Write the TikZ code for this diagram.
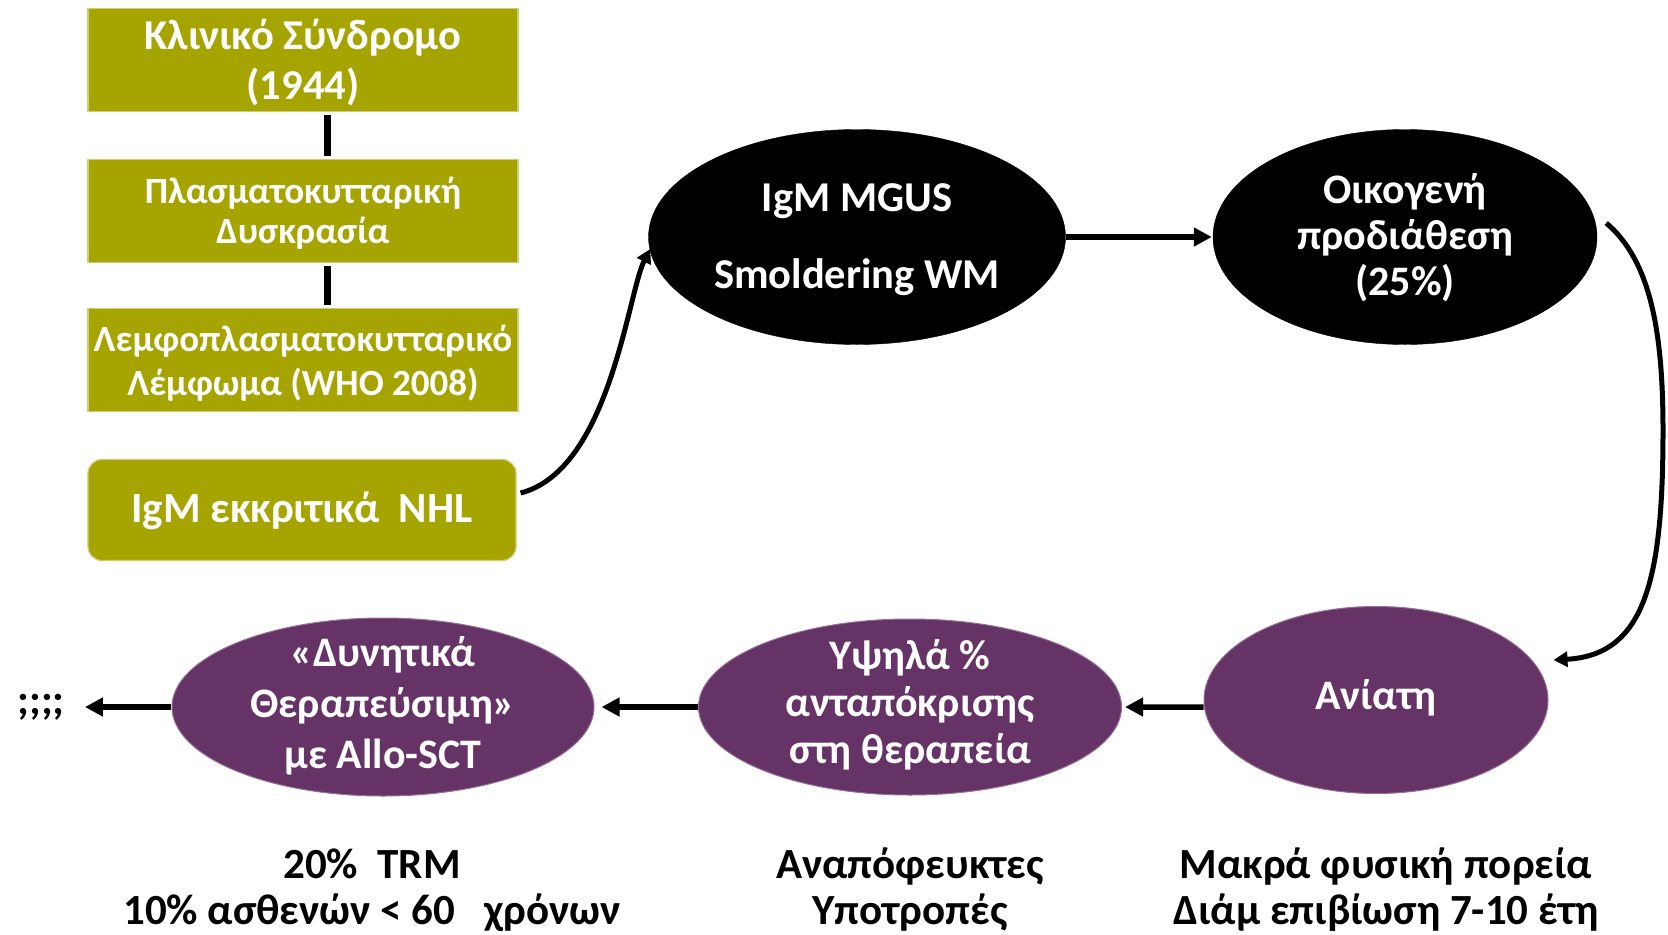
\documentclass[tikz,border=0pt]{standalone}
\usepackage{fontspec}
\setmainfont{Carlito}
\usetikzlibrary{shapes.geometric,arrows.meta,calc}
\definecolor{olivebox}{RGB}{166,164,0}
\definecolor{plum}{RGB}{102,51,102}
\tikzset{
  oliv/.style={fill=olivebox,draw=olivebox!55!white,line width=1.2bp,minimum width=430bp,minimum height=103bp,inner sep=0pt},
  blk/.style={ellipse,fill=black,draw=black,inner sep=0pt},
  pur/.style={ellipse,fill=plum,draw=plum!70!white,line width=1bp,inner sep=0pt},
  wtxt/.style={text=white,font=\bfseries,align=center,inner sep=0pt},
  btxt/.style={text=black,font=\bfseries\fontsize{43bp}{46bp}\selectfont,align=center,inner sep=0pt},
  arr/.style={line width=5.5bp,-{Triangle[length=18bp,width=18bp]}},
  carr/.style={line width=5bp,-{Triangle[length=14bp,width=15bp]}},
  link/.style={line width=7bp}
}
\begin{document}
\begin{tikzpicture}[x=1bp,y=-1bp]
\useasboundingbox[fill=white] (0,0) rectangle (1668,934);
% boxes
\node[oliv] (b1) at (303,60) {};
\node[wtxt,font=\bfseries\fontsize{42.5bp}{50bp}\selectfont] (t1) at (303,63) {Κλινικό Σύνδρομο\\(1944)};
\node[oliv] (b2) at (303,211) {};
\node[wtxt,font=\bfseries\fontsize{37bp}{40bp}\selectfont] (t2) at (303,213) {Πλασματοκυτταρική\\Δυσκρασία};
\node[oliv] (b3) at (303,360) {};
\node[wtxt,font=\bfseries\fontsize{37bp}{44bp}\selectfont] (t3) at (303,363) {Λεμφοπλασματοκυτταρικό\\Λέμφωμα (WHO 2008)};
\node[oliv,rounded corners=14bp,minimum width=428bp,minimum height=101bp] (b4) at (302,510) {};
\node[wtxt,font=\bfseries\fontsize{43bp}{46bp}\selectfont] (t4) at (302,511) {IgM εκκριτικά~~NHL};
\draw[link,shorten <=3bp,shorten >=3bp] ([xshift=24bp]b1.south) -- ([xshift=24bp]b2.north);
\draw[link,shorten <=3bp,shorten >=3bp] ([xshift=24bp]b2.south) -- ([xshift=24bp]b3.north);
% ellipses
\node[blk,minimum width=417bp,minimum height=215bp] (e1) at (857,237) {};
\node[wtxt,font=\bfseries\fontsize{42.5bp}{46bp}\selectfont] (te1) at (857,240) {IgM MGUS\\[31bp]Smoldering WM};
\node[blk,minimum width=384bp,minimum height=215bp] (e2) at (1405,237) {};
\node[wtxt,font=\bfseries\fontsize{42bp}{46bp}\selectfont] (te2) at (1405,238) {Οικογενή\\προδιάθεση\\(25\%)};
\node[pur,minimum width=344bp,minimum height=187bp] (e3) at (1376,700) {};
\node[wtxt,font=\bfseries\fontsize{42bp}{46bp}\selectfont] (te3) at (1376,698) {Ανίατη};
\node[pur,minimum width=423bp,minimum height=176bp] (e4) at (910,707) {};
\node[wtxt,font=\bfseries\fontsize{42bp}{47bp}\selectfont] (te4) at (910,705) {Υψηλά \%\\ανταπόκρισης\\στη θεραπεία};
\node[pur,minimum width=422bp,minimum height=178bp] (e5) at (383,707) {};
\node[wtxt,font=\bfseries\fontsize{42bp}{51bp}\selectfont] (te5) at (383,706) {«Δυνητικά\\Θεραπεύσιμη»\\με Allo-SCT};
\node[btxt] (q) at (41,707) {;;;;};
% arrows
\draw[arr,shorten >=1bp] (e1.east) -- (e2.west);
\draw[arr] ([yshift=-7bp]e3.west) -- ($(e4.east)+(3,0)$);
\draw[arr] (e4.west) -- ($(e5.east)+(7,0)$);
\draw[arr] (e5.west) -- ($(q.east)+(20,0)$);
\coordinate (a1) at ($(b4.east)+(4,-17)$);
\coordinate (a2) at ($(e1.west)+(2,12)$);
\draw[carr] (a1) .. controls (610,470) and (628,292) .. (a2);
\coordinate (c1) at ($(e2.east)+(9,-14)$);
\coordinate (c2) at (1663,430);
\coordinate (c3) at ($(e3.east)+(5,-40)$);
\draw[carr] (c1) .. controls (1650,260) and (1663,330) .. (c2) .. controls (1663,580) and (1645,655) .. (c3);
% bottom texts
\node[btxt] (n1) at (372,890) {20\%~~TRM\\10\% ασθενών < 60~~~χρόνων};
\node[btxt] (n2) at (910,890) {Αναπόφευκτες\\Υποτροπές};
\node[btxt] (n3) at (1386,890) {Μακρά φυσική πορεία\\Διάμ επιβίωση 7-10 έτη};
\end{tikzpicture}
\end{document}
